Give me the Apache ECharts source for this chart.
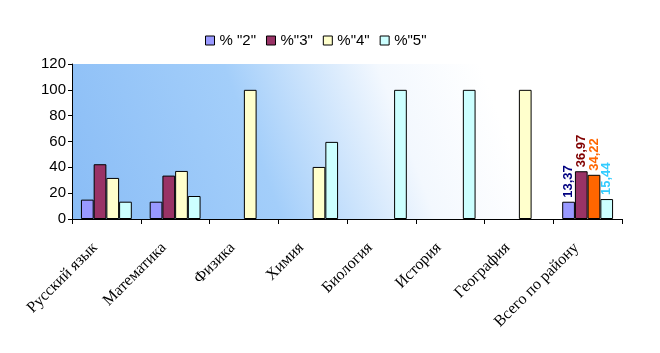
<!DOCTYPE html>
<html>
<head>
<meta charset="utf-8">
<script src="https://cdn.jsdelivr.net/npm/echarts@6/dist/echarts.min.js"></script>
<style>
  html, body { margin: 0; padding: 0; background: #fff; }
  #chart { width: 660px; height: 353px; }
</style>
</head>
<body>
<div id="chart"></div>
<script>
const categories = ['Русский язык', 'Математика', 'Физика', 'Химия', 'Биология', 'История', 'География', 'Всего по району'];
const seriesNames = ['% "2"', '%"3"', '%"4"', '%"5"'];
const grade2 = [15, 13.4, null, null, null, null, null, 13.37];
const grade3 = [42.4, 33.6, null, null, null, null, null, 36.97];
const grade4 = [31.8, 37.2, 100, 40.3, null, null, 100, 34.22];
const grade5 = [13.4, 17.8, null, 59.7, 100, 100, null, 15.44];
const yTicks = [0, 20, 40, 60, 80, 100, 120];

const colors = ['#9999FF', '#993366', '#FFFFCC', '#CCFFFF'];
const totalColors = ['#9999FF', '#993366', '#FF6600', '#CCFFFF'];
const labelColors = ['#000080', '#800000', '#FF6600', '#33CCFF'];
const allData = [grade2, grade3, grade4, grade5];
const lastIdx = categories.length - 1;

const chart = echarts.init(document.getElementById('chart'));

// only the "Всего по району" bars carry value labels
const series = allData.map((arr, i) => ({
  name: seriesNames[i],
  type: 'bar',
  barGap: 0,
  barCategoryGap: '26%',
  itemStyle: { color: colors[i], borderColor: '#000', borderWidth: 1 },
  label: {
    show: true,
    position: 'top',
    rotate: 90,
    align: 'left',
    verticalAlign: 'middle',
    distance: 4,
    color: labelColors[i],
    fontWeight: 'bold',
    fontSize: 13,
    fontFamily: 'Liberation Sans, Arial',
    formatter: p => p.dataIndex === lastIdx ? String(p.value).replace('.', ',') : ''
  },
  data: arr.map((v, j) => j === lastIdx ? { value: v, itemStyle: { color: totalColors[i] } } : v)
}));

chart.setOption({
  animation: false,
  backgroundColor: '#fff',
  legend: {
    top: 28,
    left: 200,
    icon: 'rect',
    itemWidth: 9,
    itemHeight: 9,
    itemGap: 10,
    itemStyle: { borderColor: '#000', borderWidth: 1 },
    textStyle: { fontFamily: 'Liberation Sans, Arial', fontSize: 15, color: '#000' },
    data: seriesNames
  },
  grid: {
    left: 72, right: 38, top: 64, bottom: 134,
    show: true,
    borderWidth: 0,
    backgroundColor: {
      type: 'linear', global: true,
      x: 72, y: 219, x2: 480, y2: 64,
      colorStops: [
        { offset: 0, color: '#8abdf6' },
        { offset: 0.45, color: '#a3cefa' },
        { offset: 0.78, color: '#f3f8fe' },
        { offset: 1, color: '#ffffff' }
      ]
    }
  },
  xAxis: {
    type: 'category',
    data: categories,
    axisLine: { lineStyle: { color: '#000', width: 1 } },
    axisTick: { show: true, length: 5, lineStyle: { color: '#000' } },
    axisLabel: {
      rotate: 45,
      interval: 0,
      margin: 15,
      padding: [0, 16, 0, 0],
      color: '#000',
      fontFamily: 'Liberation Serif, Times New Roman',
      fontSize: 16
    }
  },
  yAxis: {
    type: 'value',
    min: yTicks[0],
    max: yTicks[yTicks.length - 1],
    interval: 20,
    splitLine: { show: false },
    axisLine: { show: true, lineStyle: { color: '#000', width: 1 } },
    axisTick: { show: true, length: 4, lineStyle: { color: '#000' } },
    axisLabel: {
      color: '#000',
      fontFamily: 'Liberation Sans, Arial',
      fontSize: 15,
      margin: 6
    }
  },
  series: series
});
</script>
</body>
</html>
